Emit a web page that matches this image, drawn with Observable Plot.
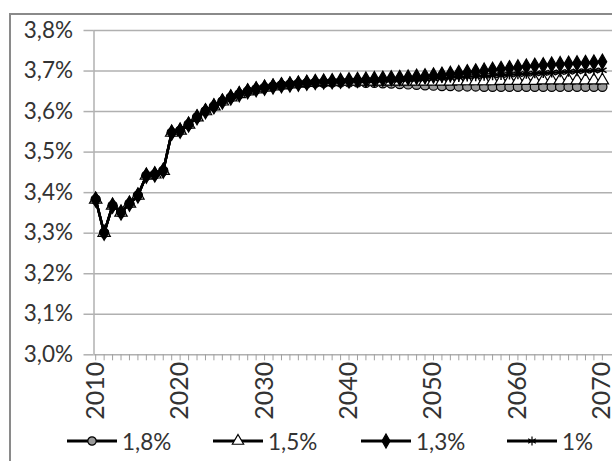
<!DOCTYPE html>
<html><head><meta charset="utf-8">
<script src="https://cdn.jsdelivr.net/npm/d3@7"></script>
<script src="https://cdn.jsdelivr.net/npm/@observablehq/plot@0.6"></script>
<style>
html,body{margin:0;padding:0;background:#fff;}
body{width:612px;height:461px;overflow:hidden;position:relative;font-family:Lato,"Open Sans",sans-serif;}
#frame{position:absolute;left:9px;top:13px;width:800px;height:800px;border:2px solid #8a8a8a;box-sizing:border-box}
#chart{position:absolute;left:0;top:0;width:640px}
#chart svg{max-width:none !important}
#legend{position:absolute;left:0;top:427px;width:612px;height:30px}
.item{position:absolute;top:0;height:28px;display:flex;align-items:center;font-size:22.5px;color:#333;white-space:nowrap}
.item svg{margin-right:5px}
</style></head><body>
<div id="frame"></div><div id="chart"></div><div id="legend"></div>
<script>
const years = d3.range(2010, 2071);
const seriesNames = ["1,8%", "1,5%", "1,3%", "1%"];
const yTicks = [3.0, 3.1, 3.2, 3.3, 3.4, 3.5, 3.6, 3.7, 3.8];
const decadeTicks = [2010, 2020, 2030, 2040, 2050, 2060, 2070];

const s18 = [3.383,3.301,3.368,3.351,3.373,3.393,3.442,3.445,3.454,3.548,3.553,3.568,3.586,3.601,3.613,3.625,3.635,3.643,3.650,3.655,3.659,3.662,3.665,3.667,3.669,
  3.670,3.671,3.671,3.672,3.672,3.672,3.672,3.671,3.671,3.670,3.669,
  3.668,3.667,3.666,3.665,3.664,3.663,3.663,3.662,3.662,3.662,
  3.661,3.661,3.661,3.661,3.661,3.661,3.661,3.661,3.661,3.661,3.661,3.661,3.661,3.661,3.661];
const s15 = [3.383,3.301,3.368,3.351,3.373,3.393,3.442,3.445,3.454,3.548,3.553,3.568,3.586,3.601,3.613,3.625,3.635,3.643,3.650,3.655,3.659,3.662,3.665,3.667,3.669,
  3.671,3.672,3.673,3.673,3.674,3.674,3.674,3.674,3.674,3.674,3.674,
  3.674,3.674,3.674,3.674,3.674,3.674,3.674,3.675,3.675,3.675,
  3.675,3.675,3.676,3.676,3.676,3.676,3.676,3.677,3.677,3.677,3.677,3.677,3.677,3.677,3.677];
const s13 = [3.383,3.301,3.368,3.351,3.373,3.393,3.442,3.445,3.454,3.548,3.553,3.568,3.586,3.601,3.613,3.625,3.635,3.643,3.650,3.655,3.659,3.662,3.665,3.667,3.669,
  3.671,3.673,3.674,3.675,3.676,3.677,3.678,3.679,3.680,3.681,3.682,
  3.683,3.684,3.686,3.687,3.689,3.691,3.693,3.695,3.697,3.699,
  3.701,3.703,3.705,3.707,3.709,3.711,3.713,3.714,3.716,3.717,3.718,3.719,3.720,3.721,3.723];
const s10 = [3.383,3.301,3.368,3.351,3.373,3.393,3.442,3.445,3.454,3.548,3.553,3.568,3.586,3.601,3.613,3.625,3.635,3.643,3.650,3.655,3.659,3.662,3.665,3.667,3.669,
  3.671,3.672,3.673,3.674,3.675,3.676,3.676,3.677,3.677,3.678,3.678,
  3.679,3.680,3.680,3.681,3.682,3.683,3.684,3.685,3.686,3.687,
  3.688,3.689,3.690,3.691,3.692,3.693,3.694,3.695,3.696,3.697,3.698,3.699,3.700,3.701,3.702];

const seriesValues = [s18, s15, s13, s10];
const symbols = ["circle", "triangle", "diamond", "asterisk"];
const fills = ["#9a9a9a", "#ffffff", "#000000", "none"];

const xDomain = [2009.8, 2071.2];
const fmtY = d => d.toFixed(1).replace(".", ",") + "%";

const marks = [
  Plot.gridY(yTicks, {stroke: "#b0b0b0", strokeOpacity: 1, strokeWidth: 1.5}),
  Plot.axisY(yTicks, {tickSize: 10, tickPadding: 11, tickFormat: fmtY, stroke: "#b0b0b0", strokeWidth: 1.5, fill: "#333", fontSize: 22.5, label: null}),
  Plot.ruleX([xDomain[0]], {stroke: "#b0b0b0", strokeWidth: 1.5}),
  Plot.axisX(years, {tickSize: 6, tickFormat: () => "", stroke: "#a0a0a0", strokeWidth: 1, label: null}),
  Plot.axisX(decadeTicks, {tickSize: 0, tickRotate: -90, tickPadding: 7, tickFormat: d => String(d), fill: "#333", fontSize: 25, label: null})
];

seriesNames.forEach((name, si) => {
  const rows = years.map((yr, i) => ({year: yr, value: seriesValues[si][i], series: name}));
  marks.push(Plot.line(rows, {x: "year", y: "value", stroke: "#000", strokeWidth: 2.5}));
  marks.push(Plot.dot(rows, {x: "year", y: "value", symbol: symbols[si], r: 4.6,
    fill: fills[si], stroke: "#000", strokeWidth: si === 3 ? 1.5 : 1.2}));
});

const chart = Plot.plot({
  width: 640, height: 420,
  marginLeft: 93.5, marginRight: 28, marginTop: 30, marginBottom: 65.7,
  style: {fontFamily: "Lato, 'Open Sans', sans-serif", fontSize: "22px", color: "#333", background: "transparent", overflow: "visible", maxWidth: "none"},
  x: {domain: xDomain, axis: null, label: null},
  y: {domain: [3.0, 3.8], axis: null, label: null},
  marks
});
document.getElementById("chart").appendChild(chart);

// legend
const legendX = [67, 213, 361, 507];
const legend = document.getElementById("legend");
seriesNames.forEach((name, si) => {
  const item = document.createElement("div");
  item.className = "item";
  item.style.left = legendX[si] + "px";
  const sym = d3.symbol(d3["symbol" + symbols[si][0].toUpperCase() + symbols[si].slice(1)], Math.PI * 4.2 * 4.2)();
  item.innerHTML = `<svg width="50" height="20" viewBox="0 0 50 20"><line x1="0" x2="50" y1="10" y2="10" stroke="#000" stroke-width="3"/><path transform="translate(25,10)" d="${sym}" fill="${fills[si]}" stroke="#000" stroke-width="1.2"/></svg><span>${name}</span>`;
  legend.appendChild(item);
});
</script></body></html>
